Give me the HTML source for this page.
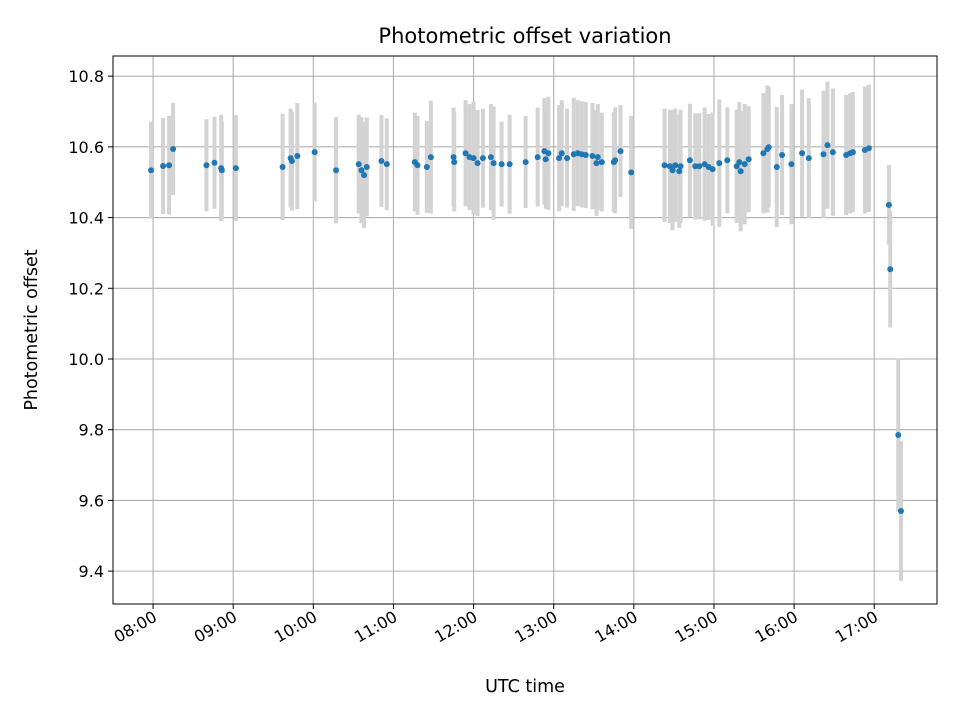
<!DOCTYPE html>
<html><head><meta charset="utf-8"><style>
body{margin:0;background:#fff;}
svg text{font-family:"DejaVu Sans","Liberation Sans",sans-serif;fill:#000;}
</style></head><body>
<svg id="chart" width="960" height="720" xmlns="http://www.w3.org/2000/svg">
<rect width="960" height="720" fill="#fff"/>
<text x="525" y="43" font-size="21" text-anchor="middle">Photometric offset variation</text>
<g id="grid"></g>
<g id="bars"></g>
<g id="pts"></g>
<g id="axes"></g>
<text x="525" y="692" font-size="17.5" text-anchor="middle">UTC time</text>
<text transform="translate(37,330) rotate(-90)" font-size="17.5" text-anchor="middle">Photometric offset</text>
</svg>
<script>
// minutes since 08:00 UTC
const minutes=[-1.5,7.5,12,15,40,46,51,51.5,62,97,103,104,108,121,137,154,156,158,160,171,175,196,198,205,208,225,225.5,234,237,240,243,247,253,255,261,267,279,288,293,294,296,304,306,310,315,318,321,324,329,332,333,336,345,346,350,358,383,387,389,391,394,395,402,406,409,413,416,419,424,430,437,439,440,443,446,457,460,461,467,471,478,486,491,502,505,509,519,522,524,533,536,551,552,558,560];
const offsets=[10.534,10.546,10.548,10.594,10.548,10.555,10.54,10.534,10.54,10.543,10.568,10.56,10.574,10.585,10.534,10.551,10.534,10.52,10.543,10.56,10.551,10.557,10.548,10.543,10.571,10.571,10.557,10.582,10.571,10.568,10.554,10.568,10.571,10.554,10.551,10.551,10.557,10.571,10.588,10.565,10.582,10.568,10.582,10.568,10.579,10.582,10.579,10.577,10.574,10.554,10.571,10.557,10.557,10.562,10.588,10.528,10.548,10.545,10.534,10.548,10.531,10.545,10.562,10.545,10.545,10.551,10.543,10.537,10.554,10.562,10.545,10.557,10.531,10.551,10.565,10.582,10.594,10.599,10.543,10.577,10.551,10.582,10.568,10.579,10.605,10.585,10.577,10.582,10.585,10.591,10.596,10.436,10.254,9.785,9.570];
const errors=[0.137,0.136,0.14,0.13,0.13,0.13,0.15,0.14,0.15,0.15,0.14,0.14,0.15,0.14,0.15,0.14,0.15,0.15,0.14,0.13,0.13,0.14,0.14,0.13,0.16,0.14,0.14,0.15,0.15,0.16,0.15,0.14,0.15,0.16,0.12,0.14,0.13,0.14,0.15,0.14,0.16,0.15,0.15,0.14,0.16,0.15,0.15,0.15,0.15,0.15,0.15,0.14,0.14,0.15,0.13,0.16,0.16,0.16,0.17,0.16,0.16,0.16,0.16,0.15,0.15,0.16,0.15,0.16,0.18,0.15,0.16,0.17,0.17,0.17,0.15,0.17,0.18,0.17,0.17,0.17,0.17,0.18,0.17,0.18,0.18,0.18,0.17,0.17,0.17,0.18,0.18,0.113,0.165,0.216,0.198];
const yTicks=[9.4,9.6,9.8,10.0,10.2,10.4,10.6,10.8];
const xTickMinutes=[0,60,120,180,240,300,360,420,480,540];
const xTickLabels=["08:00","09:00","10:00","11:00","12:00","13:00","14:00","15:00","16:00","17:00"];

const L=113,R=937,T=56,B=604;
const xMin=-30,xMax=587,yMin=9.307,yMax=10.857;
const X=m=>L+(m-xMin)/(xMax-xMin)*(R-L);
const Y=v=>B-(v-yMin)/(yMax-yMin)*(B-T);
const NS="http://www.w3.org/2000/svg";
function mk(tag,attrs,parent){const e=document.createElementNS(NS,tag);for(const k in attrs)e.setAttribute(k,attrs[k]);parent.appendChild(e);return e;}
const grid=document.getElementById('grid'),bars=document.getElementById('bars'),pts=document.getElementById('pts'),axes=document.getElementById('axes');
yTicks.forEach(v=>{
  const g=mk('line',{x1:L,x2:R,y1:Y(v),y2:Y(v),stroke:'#b0b0b0','stroke-width':1.1},grid);
  
  
  const t=mk('line',{x1:L-5,x2:L,y1:Y(v),y2:Y(v),stroke:'#000','stroke-width':1},axes);
  
  
  const tx=mk('text',{x:L-9,y:Y(v)+6,'font-size':16,'text-anchor':'end'},axes);
  tx.textContent=v.toFixed(1);
  
  
});
xTickMinutes.forEach((m,i)=>{
  const g=mk('line',{x1:X(m),x2:X(m),y1:T,y2:B,stroke:'#b0b0b0','stroke-width':1.1},grid);
  
  
  const t=mk('line',{x1:X(m),x2:X(m),y1:B,y2:B+5,stroke:'#000','stroke-width':1},axes);
  
  
  const tx=mk('text',{x:0,y:0,'font-size':16,'text-anchor':'end',transform:`translate(${X(m)+5},${B+16}) rotate(-30)`},axes);
  tx.textContent=xTickLabels[i];
  
  
});
mk('rect',{x:L,y:T,width:R-L,height:B-T,fill:'none',stroke:'#000','stroke-width':1},axes);
minutes.forEach((m,i)=>{
  const b=mk('line',{x1:X(m),x2:X(m),y1:Y(offsets[i]+errors[i]),y2:Y(offsets[i]-errors[i]),stroke:'#d3d3d3','stroke-width':4},bars);
  
  
});
minutes.forEach((m,i)=>{
  const c=mk('circle',{cx:X(m),cy:Y(offsets[i]),r:3,fill:'#1f77b4'},pts);
  
  
});
</script>
</body></html>
